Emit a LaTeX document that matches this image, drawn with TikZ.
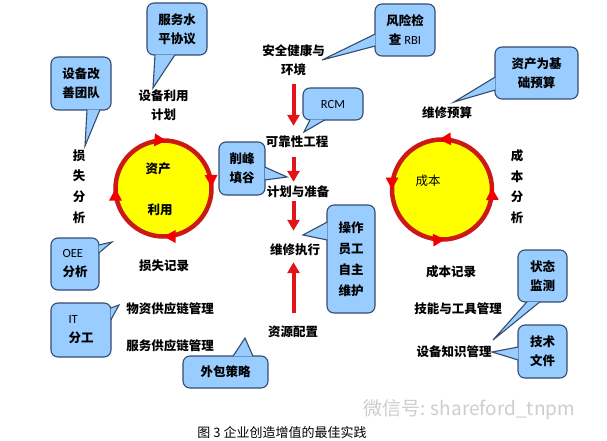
\documentclass[tikz,border=0pt]{standalone}
\usepackage{fontspec}
\setmainfont{Noto Sans CJK SC}
\newfontfamily\latfont{Carlito}
\usetikzlibrary{arrows.meta, positioning, calc, decorations.markings}
\definecolor{cBub}  {RGB}{153,204,255}
\definecolor{cBubB} {RGB}{52,76,112}
\definecolor{cRing} {RGB}{205,25,20}
\definecolor{cSun}  {RGB}{255,255,0}
\definecolor{cTip}  {RGB}{240,0,0}
\definecolor{cFlow} {RGB}{225,20,25}
\definecolor{cWm}   {RGB}{205,205,205}

% callout tail: base point, base point, tip
\newcommand\bubtail[3]{%
  \fill[cBub] #1 -- #3 -- #2 -- cycle;
  \draw[tailln] #1 -- #3 -- #2;
}

\begin{document}
\begin{tikzpicture}[
  x=1pt, y=-1pt,
  font=\fontsize{12.5}{19}\selectfont\bfseries,
  % ── plain labels
  lbl/.style={align=center, inner sep=0pt, text=black},
  vlbl/.style={lbl, font=\fontsize{12.5}{20.7}\selectfont\bfseries},
  % ── callout boxes
  bubble/.style={
    draw=cBubB, fill=cBub, rounded corners=7pt, align=center,
    inner sep=0pt, line width=1.1pt, text=black
  },
  tailln/.style={draw=cBubB, line width=1.1pt, line join=miter},
  % ── cycle rings
  ring/.style={draw=cRing, fill=cSun, line width=4.5pt, postaction={decorate}},
  cwring/.style={ring, decoration={markings,
    mark=at position 0.005 with {\arrowreversed{Triangle[length=12pt,width=12pt,color=cTip]}},
    mark=at position 0.24  with {\arrowreversed{Triangle[length=12pt,width=12pt,color=cTip]}},
    mark=at position 0.50  with {\arrowreversed{Triangle[length=12pt,width=12pt,color=cTip]}},
    mark=at position 0.75  with {\arrowreversed{Triangle[length=12pt,width=12pt,color=cTip]}}}},
  ccwring/.style={ring, decoration={markings,
    mark=at position 0.005 with {\arrow{Triangle[length=12pt,width=12pt,color=cTip]}},
    mark=at position 0.26  with {\arrow{Triangle[length=12pt,width=12pt,color=cTip]}},
    mark=at position 0.50  with {\arrow{Triangle[length=12pt,width=12pt,color=cTip]}},
    mark=at position 0.76  with {\arrow{Triangle[length=12pt,width=12pt,color=cTip]}}}},
  % ── process arrows
  flow/.style={draw=cFlow, line width=4pt, -{Triangle[length=11pt,width=12pt]}},
]
\useasboundingbox (0,0) rectangle (607,441);

%% ═══════════════════════════════════════════════════════════════
%%  CENTRE COLUMN — maintenance process
%% ═══════════════════════════════════════════════════════════════

\node[lbl] (ehs)      at (293.5,60.5) {安全健康与\\环境};
\node[lbl] (reliab)   at (297,142)    {可靠性工程};
\node[lbl] (planprep) at (298,192)    {计划与准备};
\node[lbl] (execu)    at (295,250)    {维修执行};
\node[lbl] (resource) at (293,332)    {资源配置};

\draw[flow, shorten <=8pt, shorten >=10pt] (ehs.south) -- (ehs.south |- reliab.north);
\draw[flow, shorten <=9pt, shorten >=4pt] (ehs.south |- reliab.south) -- (ehs.south |- planprep.north);
\draw[flow, shorten <=3pt, shorten >=13pt] (ehs.south |- planprep.south) -- (ehs.south |- execu.north);
\draw[flow, shorten <=13pt, shorten >=6pt] (ehs.south |- resource.north) -- (ehs.south |- execu.south);

%% ═══════════════════════════════════════════════════════════════
%%  LEFT — asset utilisation cycle
%% ═══════════════════════════════════════════════════════════════

\coordinate (assetO) at (163.5,188.5);
\draw[cwring] (assetO) circle[radius=48pt];
\node[lbl] (asset1) at (158,169) {资产};
\node[lbl] (asset2) at (160,210) {利用};

\node[lbl]  (useplan) at (163.5,105)  {设备利用\\计划};
\node[vlbl] (lossana) at (79,186.5)   {损\\失\\分\\析};
\node[lbl]  (lossrec) at (164,266)    {损失记录};
\node[lbl]  (matsc)   at (170,309)    {物资供应链管理};
\node[lbl]  (servsc)  at (170,346)    {服务供应链管理};

%% ═══════════════════════════════════════════════════════════════
%%  RIGHT — cost cycle
%% ═══════════════════════════════════════════════════════════════

\coordinate (costO) at (442,189.5);
\draw[ccwring] (costO) circle[radius=50pt];
\node[lbl, font=\fontsize{12.5}{19}\selectfont\mdseries] (costtxt) at (428,181) {成本};

\node[lbl]  (budget)  at (447,113)    {维修预算};
\node[vlbl] (costana) at (517,186.5)  {成\\本\\分\\析};
\node[lbl]  (costrec) at (451,272)    {成本记录};
\node[lbl]  (skill)   at (458,309)    {技能与工具管理};
\node[lbl]  (know)    at (454,352)    {设备知识管理};

%% ═══════════════════════════════════════════════════════════════
%%  CALLOUTS
%% ═══════════════════════════════════════════════════════════════

\node[bubble, minimum width=60pt, minimum height=52pt] (sla) at (177,29) {服务水\\平协议};
\bubtail{($(sla.south)+(-22,-0.8)$)}{($(sla.south)+(-2,-0.8)$)}{(153,88)}

\node[bubble, minimum width=60pt, minimum height=53pt] (team) at (81,83.5) {设备改\\善团队};
\bubtail{($(team.south)+(6,-0.8)$)}{($(team.south)+(19,-0.8)$)}{(85,146)}

\node[bubble, minimum width=60pt, minimum height=52pt] (rbi) at (405,30) {风险检\\查 {\latfont\mdseries RBI}};
\bubtail{($(rbi.west)+(0.8,4)$)}{($(rbi.west)+(0.8,16)$)}{(322,60)}

\node[bubble, minimum width=83pt, minimum height=52pt] (assetbud) at (536.5,73) {资产为基\\础预算};
\bubtail{($(assetbud.west)+(0.8,4)$)}{($(assetbud.west)+(0.8,17)$)}{(454,102)}

\node[bubble, minimum width=60pt, minimum height=32pt] (rcm) at (333,104) {\latfont\mdseries RCM};
\bubtail{($(rcm.south)+(-23,-0.8)$)}{($(rcm.south)+(-8,-0.8)$)}{(304,132)}

\node[bubble, minimum width=46pt, minimum height=53pt] (peak) at (242,168.5) {削峰\\填谷};
\bubtail{($(peak.east)+(-0.8,-1.5)$)}{($(peak.east)+(-0.8,11.5)$)}{(287,177)}

\node[bubble, minimum width=48pt, minimum height=108pt,
      font=\fontsize{12.5}{21}\selectfont\bfseries] (autonomy) at (351,259) {操作\\员工\\自主\\维护};
\bubtail{($(autonomy.west)+(0.8,-37)$)}{($(autonomy.west)+(0.8,-19)$)}{(303,235)}

\node[bubble, minimum width=48pt, minimum height=52pt, align=left] (oee) at (75,264) {{\latfont\mdseries OEE}\\分析};
\bubtail{($(oee.east)+(-0.8,-19)$)}{($(oee.east)+(-0.8,-11)$)}{(112,242)}

\node[bubble, minimum width=60pt, minimum height=54pt, align=left] (itdiv) at (81,330) {{\latfont\mdseries IT}\\分工};
\bubtail{($(itdiv.east)+(-0.8,-22)$)}{($(itdiv.east)+(-0.8,-10)$)}{(119,305)}

\node[bubble, minimum width=85pt, minimum height=32pt] (outsrc) at (225.5,372) {外包策略};
\bubtail{($(outsrc.north)+(7.5,0.8)$)}{($(outsrc.north)+(27.5,0.8)$)}{(245,338)}

\node[bubble, minimum width=49pt, minimum height=52pt] (cbm) at (542.5,276) {状态\\监测};
\bubtail{($(cbm.south)+(-15.5,-0.8)$)}{($(cbm.south)+(-2.5,-0.8)$)}{(493,340)}

\node[bubble, minimum width=49pt, minimum height=53pt] (techdoc) at (542.5,351.5) {技术\\文件};
\bubtail{($(techdoc.west)+(0.8,-4.5)$)}{($(techdoc.west)+(0.8,8.5)$)}{(492,352)}

%% ═══════════════════════════════════════════════════════════════
%%  CAPTION
%% ═══════════════════════════════════════════════════════════════

\node[lbl, font=\fontsize{19}{22}\selectfont\mdseries, text=cWm] (wmark) at (469,410) {微信号: shareford\_tnpm};
\node[lbl, font=\fontsize{13}{15}\selectfont\mdseries] (caption) at (282,432) {图 3 企业创造增值的最佳实践};

\end{tikzpicture}
\end{document}
